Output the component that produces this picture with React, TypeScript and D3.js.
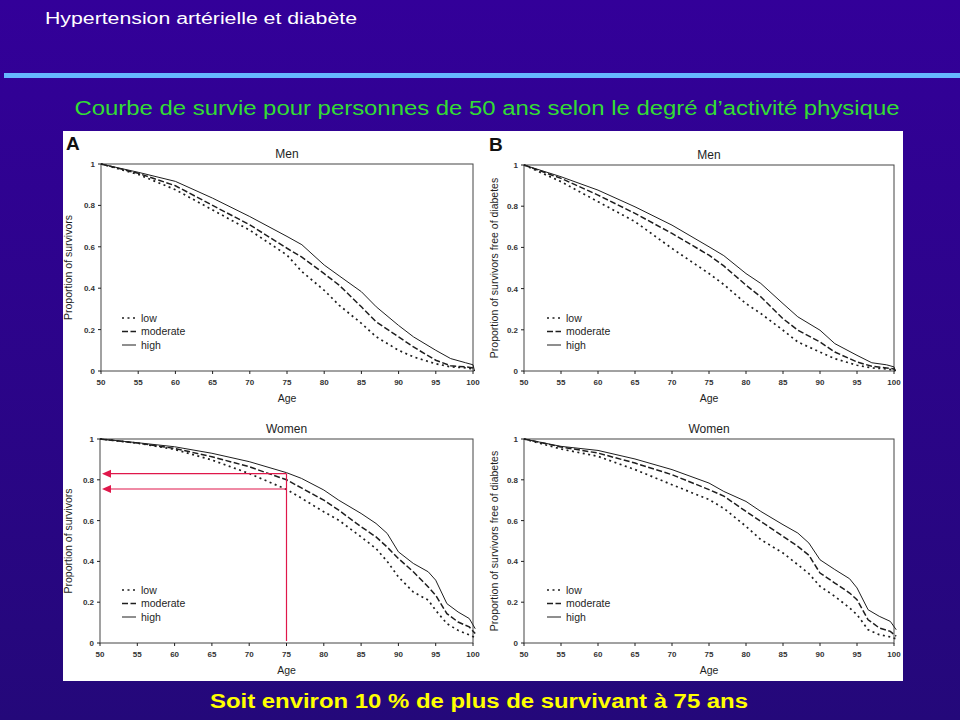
import React from "react";
import * as d3 from "d3";

const xTicks = [50, 55, 60, 65, 70, 75, 80, 85, 90, 95, 100];
const yTicks = [0, 0.2, 0.4, 0.6, 0.8, 1];
const levels = ["low", "moderate", "high"];

const menAges = [50, 55, 60, 65, 70, 75, 77, 80, 82, 85, 87, 90, 92, 95, 97, 99, 100, 100.2];
const menSurvLow = [1, 0.95, 0.876, 0.778, 0.68, 0.56, 0.48, 0.39, 0.318, 0.23, 0.165, 0.1, 0.068, 0.035, 0.02, 0.015, 0.01, 0.0];
const menSurvModerate = [1, 0.955, 0.895, 0.8, 0.706, 0.593, 0.55, 0.47, 0.415, 0.31, 0.237, 0.165, 0.116, 0.052, 0.025, 0.02, 0.015, 0.0];
const menSurvHigh = [1, 0.96, 0.916, 0.835, 0.746, 0.65, 0.61, 0.512, 0.46, 0.383, 0.31, 0.22, 0.165, 0.1, 0.06, 0.04, 0.03, 0.0];

const menDiabLow = [1, 0.919, 0.822, 0.725, 0.595, 0.473, 0.42, 0.327, 0.279, 0.198, 0.141, 0.092, 0.06, 0.028, 0.015, 0.01, 0.005, 0.0];
const menDiabModerate = [1, 0.935, 0.854, 0.765, 0.668, 0.562, 0.51, 0.417, 0.36, 0.254, 0.198, 0.141, 0.092, 0.044, 0.023, 0.015, 0.01, 0.0];
const menDiabHigh = [1, 0.943, 0.878, 0.797, 0.708, 0.603, 0.56, 0.473, 0.425, 0.327, 0.263, 0.198, 0.133, 0.076, 0.04, 0.03, 0.02, 0.0];

const womenAges = [50, 55, 60, 65, 70, 75, 77, 80, 82, 85, 87, 88.5, 90, 92, 94, 95, 96.5, 98, 99.5, 100.3];
const womenSurvLow = [1, 0.98, 0.949, 0.897, 0.831, 0.753, 0.71, 0.643, 0.602, 0.52, 0.463, 0.4, 0.324, 0.25, 0.21, 0.16, 0.095, 0.062, 0.04, 0.026];
const womenSurvModerate = [1, 0.98, 0.954, 0.913, 0.864, 0.8, 0.76, 0.7, 0.651, 0.57, 0.52, 0.47, 0.414, 0.349, 0.275, 0.234, 0.144, 0.103, 0.079, 0.046];
const womenSurvHigh = [1, 0.982, 0.962, 0.93, 0.889, 0.835, 0.807, 0.75, 0.7, 0.635, 0.586, 0.537, 0.447, 0.39, 0.349, 0.308, 0.193, 0.152, 0.12, 0.07];

const womenDiabLow = [1, 0.951, 0.915, 0.85, 0.776, 0.703, 0.66, 0.572, 0.507, 0.441, 0.384, 0.34, 0.278, 0.229, 0.172, 0.139, 0.065, 0.041, 0.03, 0.02];
const womenDiabModerate = [1, 0.961, 0.931, 0.882, 0.825, 0.752, 0.72, 0.645, 0.596, 0.523, 0.474, 0.43, 0.343, 0.294, 0.245, 0.212, 0.114, 0.074, 0.057, 0.033];
const womenDiabHigh = [1, 0.964, 0.944, 0.902, 0.85, 0.784, 0.743, 0.694, 0.645, 0.58, 0.539, 0.49, 0.408, 0.36, 0.315, 0.27, 0.163, 0.131, 0.106, 0.065];

// annotation values (panel A, women, at age 75)
const annotAge = 75;
const annotValues = [0.83, 0.755];

const FONT = "'Liberation Sans', Arial, Helvetica, sans-serif";
const INK = "#1e1e1e";
const dashFor: Record<string, string | undefined> = { low: "2,3.5", moderate: "6,2.5", high: undefined };
const widthFor: Record<string, number> = { low: 1.7, moderate: 1.5, high: 1 };

type PanelProps = {
  x0: number; x1: number; y0: number; y1: number;
  title: string; letter?: string; yLabel: string;
  ages: number[]; series: number[][]; legendDx: number; ylabDx: number;
  annotate?: boolean;
};

function Panel(p: PanelProps) {
  const x = d3.scaleLinear().domain([50, 100]).range([p.x0, p.x1]);
  const y = d3.scaleLinear().domain([0, 1]).range([p.y1, p.y0]);
  const line = d3.line<[number, number]>().x((d) => x(d[0])).y((d) => y(d[1]));
  const cx = (p.x0 + p.x1) / 2;
  const cy = (p.y0 + p.y1) / 2;
  return (
    <g>
      {p.letter && (
        <text x={p.x0 - 35} y={p.y0 - 14} fontFamily={FONT} fontWeight="bold" fontSize={19} fill="#111">{p.letter}</text>
      )}
      <text x={cx} y={p.y0 - 6} textAnchor="middle" fontFamily={FONT} fontSize={12} fill={INK}>{p.title}</text>
      <rect x={p.x0} y={p.y0} width={p.x1 - p.x0} height={p.y1 - p.y0} fill="none" stroke="#444" strokeWidth={1} />
      {xTicks.map((t) => (
        <g key={"x" + t}>
          <line x1={x(t)} x2={x(t)} y1={p.y1} y2={p.y1 + 3} stroke={INK} />
          <text x={x(t)} y={p.y1 + 14} textAnchor="middle" fontFamily={FONT} fontSize={8} fontWeight="bold" fill="#333">{t}</text>
        </g>
      ))}
      {yTicks.map((t) => (
        <g key={"y" + t}>
          <line x1={p.x0 - 3} x2={p.x0} y1={y(t)} y2={y(t)} stroke={INK} />
          <text x={p.x0 - 6} y={y(t) + 3} textAnchor="end" fontFamily={FONT} fontSize={8} fontWeight="bold" fill="#333">{t === 0 ? "0" : t === 1 ? "1" : d3.format(".1f")(t)}</text>
        </g>
      ))}
      <text x={cx} y={p.y1 + 31} textAnchor="middle" fontFamily={FONT} fontSize={10.5} fill={INK}>Age</text>
      <text transform={`translate(${p.x0 + p.ylabDx},${cy}) rotate(-90)`} textAnchor="middle" fontFamily={FONT} fontSize={10.5} fill={INK}>{p.yLabel}</text>
      {p.series.map((vals, i) => (
        <path key={levels[i]} d={line(p.ages.map((a, j) => [a, vals[j]] as [number, number])) || ""}
          fill="none" stroke={INK} strokeWidth={widthFor[levels[i]]} strokeDasharray={dashFor[levels[i]]} />
      ))}
      {levels.map((lv, i) => {
        const ly = p.y1 - 53 + i * 13.5;
        return (
          <g key={"lg" + lv}>
            <line x1={p.x0 + p.legendDx} x2={p.x0 + p.legendDx + 14} y1={ly} y2={ly} stroke={INK}
              strokeWidth={widthFor[lv]} strokeDasharray={dashFor[lv]} />
            <text x={p.x0 + p.legendDx + 19} y={ly + 3.5} fontFamily={FONT} fontSize={10.5} fill={INK}>{lv}</text>
          </g>
        );
      })}
      {p.annotate && (
        <g stroke="#e0174a" fill="#e0174a">
          <line x1={x(annotAge)} x2={x(annotAge)} y1={p.y1 - 2} y2={y(annotValues[0])} strokeWidth={1.2} />
          {annotValues.map((v) => (
            <g key={"a" + v}>
              <line x1={x(annotAge)} x2={x(50) + 10} y1={y(v)} y2={y(v)} strokeWidth={1.2} />
              <path d={`M${x(50) + 2},${y(v)} L${x(50) + 11},${y(v) - 4} L${x(50) + 11},${y(v) + 4} Z`} stroke="none" />
            </g>
          ))}
        </g>
      )}
    </g>
  );
}

export default function App() {
  return (
    <svg width={960} height={720} style={{ position: "absolute", left: 0, top: 0, display: "block" }}>
      <defs>
        <linearGradient id="bg" x1="0" y1="0" x2="0" y2="1">
          <stop offset="0" stopColor="#330099" />
          <stop offset="1" stopColor="#24087a" />
        </linearGradient>
      </defs>
      <rect x={0} y={0} width={960} height={720} fill="url(#bg)" />
      <text x={45} y={24} fontFamily={FONT} fontSize={16} fill="#ffffff" textLength={312} lengthAdjust="spacingAndGlyphs">Hypertension artérielle et diabète</text>
      <rect x={4} y={73} width={956} height={5} fill="#66b8ff" />
      <text x={487} y={115} textAnchor="middle" fontFamily={FONT} fontSize={20} fill="#33dd33" textLength={825} lengthAdjust="spacingAndGlyphs">Courbe de survie pour personnes de 50 ans selon le degré d’activité physique</text>
      <rect x={63} y={131} width={840} height={550} fill="#ffffff" />
      <Panel x0={101} x1={473} y0={164} y1={371} title="Men" letter="A" yLabel="Proportion of survivors"
        ages={menAges} series={[menSurvLow, menSurvModerate, menSurvHigh]} legendDx={21} ylabDx={-29} />
      <Panel x0={524} x1={894} y0={165} y1={371} title="Men" letter="B" yLabel="Proportion of survivors free of diabetes"
        ages={menAges} series={[menDiabLow, menDiabModerate, menDiabHigh]} legendDx={23} ylabDx={-26} />
      <Panel x0={100} x1={473} y0={439} y1={643} title="Women" yLabel="Proportion of survivors"
        ages={womenAges} series={[womenSurvLow, womenSurvModerate, womenSurvHigh]} legendDx={22} ylabDx={-28} annotate />
      <Panel x0={524} x1={894} y0={439} y1={643} title="Women" yLabel="Proportion of survivors free of diabetes"
        ages={womenAges} series={[womenDiabLow, womenDiabModerate, womenDiabHigh]} legendDx={23} ylabDx={-26} />
      <text x={479} y={708} textAnchor="middle" fontFamily={FONT} fontSize={20} fontWeight="bold" fill="#ffff00" textLength={538} lengthAdjust="spacingAndGlyphs">Soit environ 10 % de plus de survivant à 75 ans</text>
    </svg>
  );
}
